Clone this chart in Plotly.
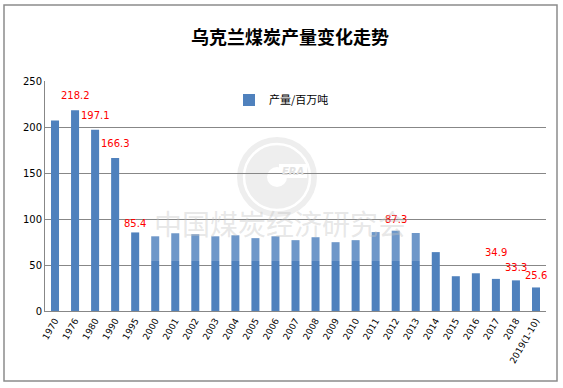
import plotly.graph_objects as go

categories = ["1970", "1976", "1980", "1990", "1995", "2000", "2001", "2002", "2003",
              "2004", "2005", "2006", "2007", "2008", "2009", "2010", "2011", "2012",
              "2013", "2014", "2015", "2016", "2017", "2018", "2019(1-10)"]
production = [207.0, 218.2, 197.1, 166.3, 85.4, 81.2, 84.5, 83.5, 81.2,
              82.3, 79.2, 81.2, 77.0, 80.2, 74.8, 77.0, 85.8, 87.3,
              84.8, 64.0, 37.8, 41.0, 34.9, 33.3, 25.6]
labelled = ["1976", "1980", "1990", "1995", "2012", "2017", "2018", "2019(1-10)"]
series_name = "产量/百万吨"
title_text = "乌克兰煤炭产量变化走势"
watermark_text = "中国煤炭经济研究会"

# plot area geometry in pixels
L, R, T, B = 45, 546, 81, 311
W, H = R - L, B - T


def px(x):
    return (x - L) / W


def py(y):
    return (B - y) / H


fig = go.Figure()
fig.add_trace(go.Bar(
    x=categories, y=production, name=series_name,
    marker=dict(color="#4F81BD", line=dict(width=0)),
    width=0.4, showlegend=True,
))

label_shift = {"1976": 15, "1980": 14, "1990": 15, "1995": 9, "2012": 11,
               "2017": 26, "2018": 13, "2019(1-10)": 12}
for c in labelled:
    i = categories.index(c)
    v = production[i]
    fig.add_annotation(x=i, y=v, text=f"{v:.1f}", showarrow=False,
                       yshift=label_shift[c], yanchor="middle",
                       font=dict(family="DejaVu Sans", size=10, color="#FF0000"))

shapes = []
# outer chart border
shapes.append(dict(type="rect", xref="paper", yref="paper",
                   x0=px(4), x1=px(557), y0=py(381), y1=py(5),
                   line=dict(color="#8C8C8C", width=1.5), fillcolor="rgba(0,0,0,0)",
                   layer="below"))
# watermark logo
cx, cy = 277, 177


def circ(r, **kw):
    d = dict(type="circle", xref="paper", yref="paper",
             x0=px(cx - r), x1=px(cx + r), y0=py(cy + r), y1=py(cy - r), layer="below")
    d.update(kw)
    return d


shapes.append(circ(40, fillcolor="#EEEEEE", line=dict(width=0)))
shapes.append(circ(33, fillcolor="rgba(0,0,0,0)", line=dict(color="white", width=2.5)))
shapes.append(circ(10, fillcolor="white", line=dict(width=0)))
shapes.append(dict(type="rect", xref="paper", yref="paper", layer="below",
                   x0=px(cx + 2), x1=px(cx + 30), y0=py(cy + 1), y1=py(cy - 13),
                   fillcolor="white", line=dict(width=0)))
# light veil of watermark image
shapes.append(dict(type="rect", xref="paper", yref="paper", layer="above",
                   x0=px(140), x1=px(420), y0=py(261), y1=py(226),
                   fillcolor="rgba(255,255,255,0.18)", line=dict(width=0)))

fig.add_annotation(xref="paper", yref="paper", x=px(cx + 16), y=py(cy - 6),
                   text="<b><i>ERA</i></b>", showarrow=False,
                   font=dict(family="DejaVu Sans", size=10, color="#E2E2E2"))
fig.add_annotation(xref="paper", yref="paper", x=px(280), y=py(245),
                   text=watermark_text, showarrow=False,
                   font=dict(family="Noto Sans CJK SC", size=28,
                             color="rgba(195,195,195,0.4)"))

fig.update_layout(
    width=563, height=388,
    margin=dict(l=L, r=563 - R, t=T, b=388 - B, autoexpand=False),
    paper_bgcolor="white", plot_bgcolor="white",
    title=dict(text=f"<b>{title_text}</b>", x=0.515, xanchor="center",
               y=1 - 38 / 388, yanchor="middle",
               font=dict(family="Noto Sans CJK SC", size=18, color="#000000")),
    legend=dict(x=px(229), y=py(100), xanchor="left", yanchor="middle",
                bgcolor="rgba(0,0,0,0)", itemwidth=30,
                font=dict(family="Noto Sans CJK SC", size=11, color="#000000")),
    shapes=shapes,
    xaxis=dict(type="category", categoryorder="array", categoryarray=categories,
               range=[-0.5, len(categories) - 0.5], autorange=False,
               tickangle=-60, showline=True, linecolor="#878787", linewidth=1,
               ticks="", showgrid=False,
               tickfont=dict(family="DejaVu Sans", size=9, color="#000000")),
    yaxis=dict(range=[0, 250], dtick=50, tick0=0, showgrid=True,
               gridcolor="#878787", gridwidth=1, showline=True,
               linecolor="#878787", linewidth=1, ticks="", zeroline=False,
               tickfont=dict(family="DejaVu Sans", size=10, color="#000000")),
)

fig.write_html("out.html", config={"displayModeBar": False},
               post_script="document.body.style.margin='0';document.body.style.overflow='hidden';")
